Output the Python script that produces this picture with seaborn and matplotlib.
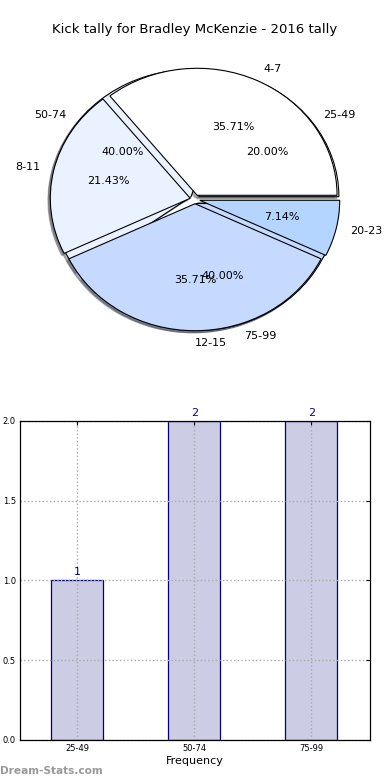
import matplotlib
matplotlib.use("Agg")
import matplotlib.pyplot as plt
import seaborn as sns
import pandas as pd

# ---- data ----
title = "Kick tally for Bradley McKenzie - 2016 tally"
pie1_labels = ["4-7", "8-11", "12-15", "20-23"]
pie1_values = [5, 3, 5, 1]
pie2_labels = ["25-49", "50-74", "75-99"]
pie2_values = [1, 2, 2]
bar_labels = ["25-49", "50-74", "75-99"]
bar_values = [1, 2, 2]
pie_colors = ["#ffffff", "#eaf1ff", "#c6d9ff", "#b4d5ff"]

sns.set_style("white")
plt.rcParams["font.family"] = ["DejaVu Sans"]
plt.rcParams["text.color"] = "black"
plt.rcParams["xtick.color"] = "black"
plt.rcParams["ytick.color"] = "black"
plt.rcParams["axes.labelcolor"] = "black"

fig = plt.figure(figsize=(3.9, 7.8), dpi=100)
fig.text(0.5, 1 - 30 / 780, title, ha="center", va="center", fontsize=9.5)

# ---- pie ----
axp = fig.add_axes([0.054, 0.54, 0.892, 0.409])
explode2 = [0.035] * len(pie2_values)
explode1 = [0.035] * len(pie1_values)
shadow = dict(ox=-0.012, oy=-0.012, shade=0.6)
axp.pie(pie2_values, labels=pie2_labels, colors=pie_colors[:3],
        autopct="%.2f%%", explode=explode2, shadow=shadow,
        wedgeprops=dict(edgecolor="black", linewidth=0.8),
        textprops=dict(fontsize=8), labeldistance=1.1, pctdistance=0.6)
axp.pie(pie1_values, labels=pie1_labels, colors=pie_colors,
        autopct="%.2f%%", explode=explode1, shadow=shadow,
        wedgeprops=dict(edgecolor="black", linewidth=0.8),
        textprops=dict(fontsize=8), labeldistance=1.1, pctdistance=0.6)
axp.set_aspect("auto")
axp.set_xlim(-1.243, 1.243)
axp.set_ylim(-1.256, 1.256)
axp.axis("off")

# ---- bars ----
axb = fig.add_axes([0.0513, 0.0513, 0.897, 0.409])
df = pd.DataFrame({"range": bar_labels, "count": bar_values})
sns.barplot(data=df, x="range", y="count", ax=axb, color="#ccccE5",
            edgecolor="#000080", linewidth=0.9, width=0.445, saturation=1)
for i, v in enumerate(bar_values):
    axb.text(i, v + 0.02, f"{v}", ha="center", va="bottom", fontsize=8, color="#000080")
axb.set_xlim(-0.49, 2.5)
axb.set_ylim(0, 2.0)
axb.set_yticks([0.0, 0.5, 1.0, 1.5, 2.0])
axb.set_yticklabels(["0.0", "0.5", "1.0", "1.5", "2.0"])
axb.set_xlabel("Frequency", fontsize=8, labelpad=2)
axb.set_ylabel("")
axb.tick_params(axis="both", labelsize=6, direction="in", length=3, top=True, right=True, pad=3)
axb.set_axisbelow(False)
axb.grid(True, linestyle=":", color="#aaaaaa", linewidth=1.0)
for s in axb.spines.values():
    s.set_visible(True)
    s.set_color("black")
    s.set_linewidth(0.9)
    s.set_zorder(4)
for p in axb.patches:
    p.set_zorder(1)

fig.text(0.0, 1 - 771 / 780, "Dream-Stats.com", ha="left", va="center",
         fontsize=7.6, color="#999999", fontweight="bold")

fig.savefig("out.png", dpi=100)
